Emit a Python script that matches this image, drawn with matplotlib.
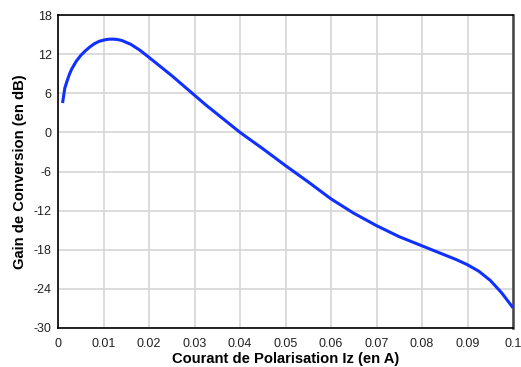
import matplotlib
matplotlib.use("Agg")
import matplotlib.pyplot as plt

current = [0.001, 0.0015, 0.002, 0.0025, 0.003, 0.004, 0.005, 0.006, 0.007, 0.008,
           0.009, 0.01, 0.011, 0.012, 0.013, 0.014, 0.016, 0.018, 0.02, 0.0225,
           0.025, 0.0275, 0.03, 0.0325, 0.035, 0.0375, 0.04, 0.045, 0.05, 0.055,
           0.06, 0.065, 0.07, 0.075, 0.08, 0.0825, 0.085, 0.0875, 0.09, 0.0925,
           0.095, 0.0975, 0.1]
gain = [4.5, 6.8, 7.9, 8.9, 9.7, 10.9, 11.8, 12.5, 13.1, 13.6,
        13.95, 14.15, 14.28, 14.3, 14.25, 14.1, 13.5, 12.6, 11.5, 10.1,
        8.7, 7.2, 5.7, 4.2, 2.8, 1.4, 0.0, -2.5, -5.1, -7.6,
        -10.2, -12.4, -14.3, -16.0, -17.4, -18.1, -18.8, -19.5, -20.3, -21.3,
        -22.7, -24.6, -26.9]

xticks = [0, 0.01, 0.02, 0.03, 0.04, 0.05, 0.06, 0.07, 0.08, 0.09, 0.1]
xticklabels = ["0", "0.01", "0.02", "0.03", "0.04", "0.05", "0.06", "0.07", "0.08", "0.09", "0.1"]
yticks = [-30, -24, -18, -12, -6, 0, 6, 12, 18]

plt.rcParams['font.family'] = ['Liberation Sans', 'DejaVu Sans']
plt.rcParams['axes.unicode_minus'] = False

fig = plt.figure(figsize=(5.21, 3.67), dpi=100)
ax = fig.add_axes([58/521, 39/367, 455/521, 313/367])

ax.plot(current, gain, color='#1030ff', lw=2.2, solid_capstyle='butt',
        solid_joinstyle='round', zorder=3)

ax.set_xlim(0, 0.1)
ax.set_ylim(-30, 18)
ax.set_xticks(xticks)
ax.set_xticklabels(xticklabels)
ax.set_yticks(yticks)
ax.grid(True, color='#d6d6d6', lw=1.2)
ax.set_axisbelow(True)
ax.tick_params(length=0, labelsize=9, colors='#222222')
ax.tick_params(axis='x', pad=7.5)
ax.tick_params(axis='y', pad=4.5)

for s in ['left', 'bottom', 'top']:
    ax.spines[s].set_color('black')
    ax.spines[s].set_linewidth(1.2)
ax.spines['right'].set_color('#444444')
ax.spines['right'].set_linewidth(1.8)

ax.set_xlabel("Courant de Polarisation Iz (en A)", fontsize=10.6, fontweight='bold', labelpad=1.5)
ax.set_ylabel("Gain de Conversion (en dB)", fontsize=10.6, fontweight='bold', labelpad=5)

fig.savefig("out.png", dpi=100)
